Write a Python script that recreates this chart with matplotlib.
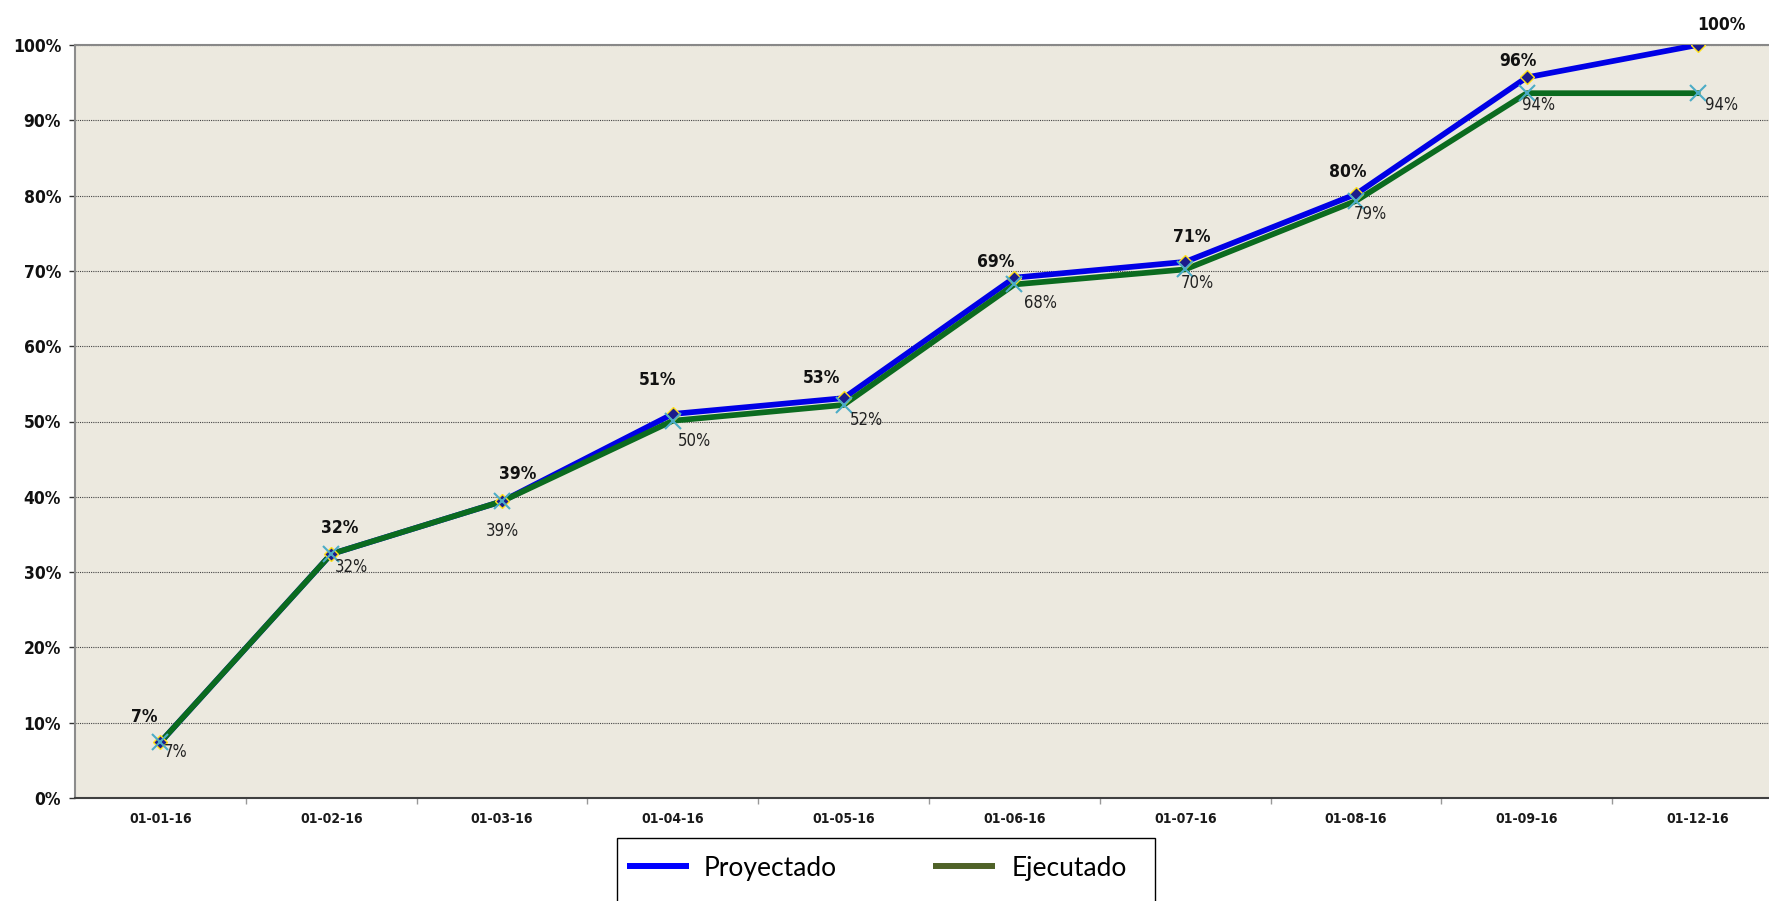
import matplotlib
matplotlib.use('Agg')
import matplotlib.pyplot as plt
from matplotlib.lines import Line2D
from matplotlib.patches import Rectangle

# ---------------- data ----------------
categories = ['01-01-16', '01-02-16', '01-03-16', '01-04-16', '01-05-16',
              '01-06-16', '01-07-16', '01-08-16', '01-09-16', '01-12-16']
proyectado = [7.4, 32.4, 39.4, 51.0, 53.1, 69.1, 71.2, 80.2, 95.7, 100.0]
ejecutado = [7.4, 32.4, 39.4, 50.1, 52.2, 68.2, 70.2, 79.3, 93.6, 93.6]
y_ticks = [0, 10, 20, 30, 40, 50, 60, 70, 80, 90, 100]
series_names = ['Proyectado', 'Ejecutado']

# ---------------- label placement (pixels) ----------------
proj_label_offsets = [(-16, 20), (8, 21), (16, 22), (-15, 29), (-22, 15),
                      (-19, 11), (7, 20), (-8, 17), (-9, 11), (24, 15)]
ejec_label_offsets = [(3, -1), (4, -4), (0, -21), (5, -11), (6, -6),
                      (10, -10), (-4, -5), (-2, -4), (-5, -3), (7, -3)]
ejec_label_ha = ['left', 'left', 'center', 'left', 'left',
                 'left', 'left', 'left', 'left', 'left']

W, H = 1769, 901
fig = plt.figure(figsize=(W / 100, H / 100), dpi=100)
fig.patch.set_facecolor('white')

ax = fig.add_axes([75 / W, (H - 798) / H, 1708 / W, 753 / H])
ax.set_facecolor('#ECE9DF')

xs = list(range(len(categories)))
blue = '#0000E6'
green = '#0B6B1F'

ax.plot(xs, proyectado, color=blue, lw=4.1, zorder=3)
ax.plot(xs, ejecutado, color=green, lw=4.1, zorder=4)
ax.plot(xs, proyectado, ls='none', marker='D', ms=7, mfc='#1C1C8C',
        mec='#FFE11A', mew=1.0, zorder=5)
ax.plot(xs, ejecutado, ls='none', marker='x', ms=11, mec='#4BACC6',
        mew=1.5, zorder=6)

ax.set_xlim(-0.5, len(categories) - 0.5)
ax.set_ylim(0, 100)

# x axis
ax.set_xticks(xs)
ax.set_xticklabels(categories, fontsize=10, fontweight='bold',
                   fontstretch='condensed', color='#1a1a1a')
ax.tick_params(axis='x', which='major', length=0, pad=10)
ax.set_xticks([i + 0.5 for i in range(len(categories) - 1)], minor=True)
ax.tick_params(axis='x', which='minor', length=4, color='#999999', width=1)

# y axis
ax.set_yticks(y_ticks)
ax.set_yticklabels([f'{v}%' for v in y_ticks], fontsize=12.5, fontweight='bold',
                   fontstretch='condensed', color='#111111')
ax.tick_params(axis='y', length=4, color='#333333', width=1, pad=6)

ax.yaxis.grid(True, color='#444444', ls=(0, (1, 1)), lw=0.8)
ax.set_axisbelow(True)

ax.spines['right'].set_visible(False)
ax.spines['top'].set_color('#888888')
ax.spines['top'].set_linewidth(1.5)
ax.spines['left'].set_color('#8c8c8c')
ax.spines['left'].set_linewidth(1.5)
ax.spines['bottom'].set_color('#404040')
ax.spines['bottom'].set_linewidth(1.5)

# data labels
for i, v in enumerate(proyectado):
    dx, dy = proj_label_offsets[i]
    ax.annotate(f'{round(v)}%', (xs[i], v), xytext=(dx, dy),
                textcoords='offset pixels', ha='center', va='baseline',
                fontsize=12.5, fontweight='bold', fontstretch='condensed',
                color='#111111', zorder=7, annotation_clip=False)
for i, v in enumerate(ejecutado):
    dx, dy = ejec_label_offsets[i]
    ax.annotate(f'{round(v)}%', (xs[i], v), xytext=(dx, dy),
                textcoords='offset pixels', ha=ejec_label_ha[i], va='top',
                fontsize=12, fontstretch='condensed',
                color='#222222', zorder=7, annotation_clip=False)

# legend (drawn in figure pixels)
def fx(px):
    return px / W

def fy(py):
    return (H - py) / H

fig.add_artist(Rectangle((fx(617), fy(906)), fx(1155) - fx(617), fy(838) - fy(906),
                         transform=fig.transFigure, facecolor='white',
                         edgecolor='black', lw=1.0))
legend_colors = ['#0000FF', '#4F6228']
legend_line_x = [(627, 689), (933, 995)]
legend_text_x = [704, 1012]
for name, col, (x0, x1), tx in zip(series_names, legend_colors, legend_line_x, legend_text_x):
    fig.add_artist(Line2D([fx(x0), fx(x1)], [fy(866), fy(866)],
                          transform=fig.transFigure, color=col, lw=4.3,
                          solid_capstyle='butt'))
    fig.text(fx(tx), fy(876), name, fontsize=19, family='Lato',
             va='baseline', ha='left', color='black')

fig.savefig('out.png', dpi=100)
